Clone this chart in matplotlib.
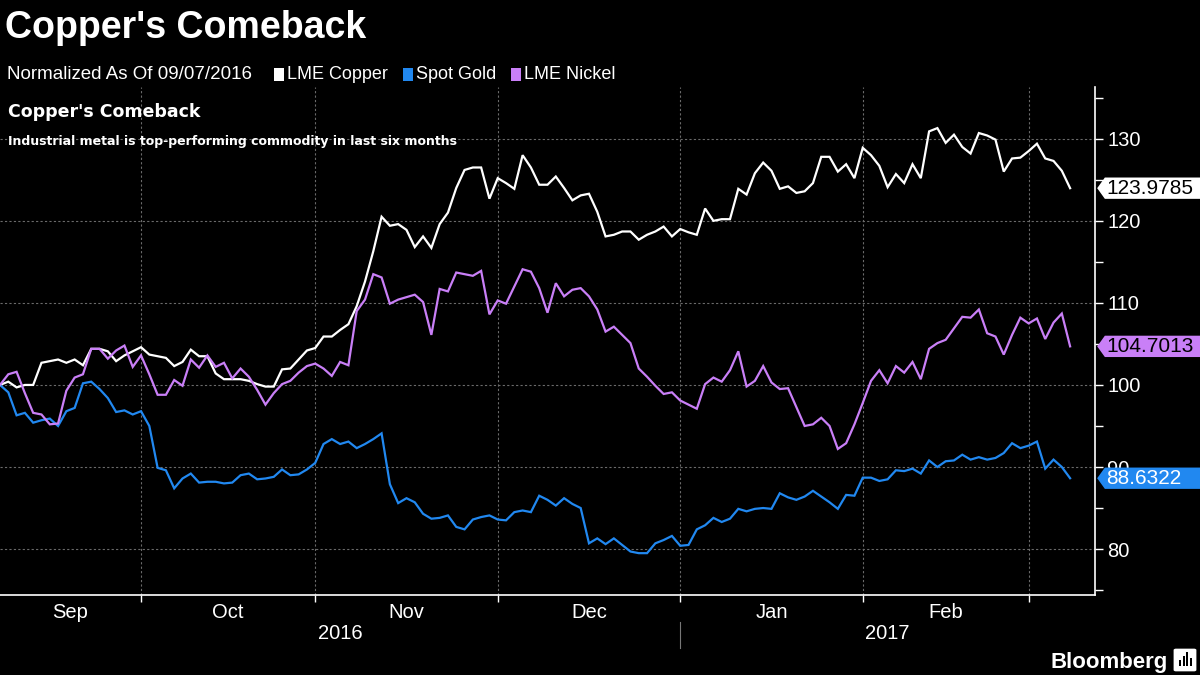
import matplotlib
matplotlib.use("Agg")
import matplotlib.pyplot as plt
import matplotlib.transforms as mtransforms
from matplotlib.patches import Polygon, FancyBboxPatch, Rectangle
import numpy as np
import pandas as pd

# --- datos (normalizados a 100 el 09/07/2016) ---
fechas = pd.bdate_range('2016-09-07', periods=130)

copper = [100.0, 100.4, 99.7, 100.0, 100.0, 102.7, 102.9, 103.1, 102.7, 103.1,
          102.4, 104.4, 104.4, 104.1, 102.9, 103.6, 104.1, 104.6, 103.7, 103.5,
          103.3, 102.3, 102.8, 104.3, 103.5, 103.5, 101.4, 100.7, 100.7, 100.7,
          100.5, 100.1, 99.8, 99.8, 101.9, 102.0, 103.1, 104.2, 104.5, 105.9,
          105.9, 106.7, 107.4, 109.6, 112.6, 116.3, 120.5, 119.4, 119.6, 118.9,
          116.8, 118.1, 116.7, 119.6, 121.0, 124.0, 126.2, 126.5, 126.5, 122.7,
          125.2, 124.6, 123.9, 128.0, 126.5, 124.4, 124.4, 125.4, 124.0, 122.5,
          123.1, 123.3, 121.1, 118.1, 118.3, 118.7, 118.7, 117.7, 118.3, 118.7,
          119.3, 118.1, 119.0, 118.6, 118.3, 121.5, 120.0, 120.2, 120.2, 123.9,
          123.2, 125.8, 127.1, 126.1, 123.9, 124.2, 123.4, 123.6, 124.6, 127.8,
          127.8, 126.0, 126.9, 125.2, 128.9, 128.0, 126.7, 124.1, 125.7, 124.6,
          126.9, 125.2, 130.9, 131.3, 129.5, 130.5, 129.0, 128.2, 130.7, 130.4,
          129.9, 126.0, 127.6, 127.7, 128.5, 129.4, 127.6, 127.3, 126.1, 123.9785]

gold = [100.0, 99.1, 96.3, 96.6, 95.4, 95.7, 95.9, 95.0, 96.8, 97.2,
        100.2, 100.4, 99.5, 98.4, 96.7, 96.9, 96.4, 96.8, 95.0, 89.9,
        89.6, 87.4, 88.6, 89.2, 88.1, 88.2, 88.2, 88.0, 88.1, 89.0,
        89.2, 88.5, 88.6, 88.8, 89.7, 89.0, 89.1, 89.7, 90.5, 92.8,
        93.4, 92.8, 93.1, 92.3, 92.8, 93.4, 94.1, 87.9, 85.6, 86.2,
        85.7, 84.3, 83.7, 83.8, 84.1, 82.7, 82.4, 83.6, 83.9, 84.1,
        83.6, 83.5, 84.5, 84.7, 84.5, 86.5, 86.0, 85.3, 86.2, 85.5,
        85.0, 80.7, 81.3, 80.6, 81.3, 80.5, 79.7, 79.5, 79.5, 80.7,
        81.1, 81.6, 80.4, 80.5, 82.4, 82.9, 83.8, 83.3, 83.7, 84.9,
        84.6, 84.9, 85.0, 84.9, 86.8, 86.3, 86.0, 86.4, 87.1, 86.4,
        85.7, 84.9, 86.6, 86.5, 88.7, 88.7, 88.3, 88.5, 89.6, 89.5,
        89.8, 89.2, 90.8, 90.0, 90.7, 90.8, 91.5, 90.9, 91.2, 90.9,
        91.1, 91.7, 92.9, 92.3, 92.6, 93.1, 89.8, 90.9, 90.0, 88.6322]

nickel = [100.0, 101.3, 101.6, 99.0, 96.6, 96.4, 95.2, 95.3, 99.3, 100.9,
          101.3, 104.4, 104.4, 103.2, 104.2, 104.8, 102.2, 103.6, 101.3, 98.8,
          98.8, 100.6, 99.9, 103.1, 102.1, 103.6, 102.2, 102.7, 100.8, 102.0,
          101.0, 99.4, 97.6, 99.0, 100.1, 100.5, 101.5, 102.3, 102.6, 102.0,
          101.1, 102.8, 102.4, 109.0, 110.4, 113.5, 113.1, 109.9, 110.4, 110.7,
          111.0, 110.1, 106.1, 111.7, 111.4, 113.7, 113.5, 113.3, 113.9, 108.6,
          110.3, 109.9, 112.0, 114.1, 113.8, 111.8, 108.8, 112.4, 110.8, 111.6,
          111.8, 110.8, 109.2, 106.5, 107.1, 106.1, 105.1, 102.0, 101.0, 99.9,
          98.9, 99.1, 98.1, 97.6, 97.1, 100.1, 100.9, 100.4, 101.8, 104.1,
          99.8, 100.5, 102.3, 100.3, 99.5, 99.6, 97.3, 95.0, 95.2, 96.0,
          95.0, 92.2, 92.9, 95.2, 97.8, 100.5, 101.8, 100.2, 102.3, 101.5,
          102.8, 100.7, 104.4, 105.1, 105.5, 106.9, 108.3, 108.2, 109.2, 106.3,
          105.9, 103.7, 106.1, 108.2, 107.5, 108.1, 105.6, 107.6, 108.7, 104.7013]

nombres = ['LME Copper', 'Spot Gold', 'LME Nickel']
colores = ['#ffffff', '#2188f0', '#c97ff7']
series = [copper, gold, nickel]
y_ticks = [80, 90, 100, 110, 120, 130]

fuente = ['Liberation Sans', 'DejaVu Sans']
plt.rcParams['font.family'] = fuente

x = np.arange(len(fechas))

# limites de mes: ultimo dia habil de cada mes
meses = fechas.to_period('M')
cambio = np.where(meses[1:] != meses[:-1])[0]        # indice del ultimo dia del mes
x_max = 132
bordes = np.concatenate(([0], cambio))
centros = (bordes[:-1] + bordes[1:]) / 2.           # solo meses completos (sin Mar)
etiquetas_mes = [m.strftime('%b') for m in meses[np.r_[0, cambio + 1]]][:len(centros)]

fig = plt.figure(figsize=(12, 6.75), dpi=100, facecolor='black')
ax = fig.add_axes([0.0, 0.1185, 0.9125, 0.7525])
ax.set_facecolor('black')

for s, c, n in zip(series, colores, nombres):
    ax.plot(x, s, color=c, lw=1.6, label=n, solid_joinstyle='miter')

ax.set_xlim(0, x_max)
ax.set_ylim(74.4, 136.3)

# ejes
ax.yaxis.tick_right()
ax.set_yticks(y_ticks)
ax.set_yticks(np.arange(75, 140, 10), minor=True)
ax.tick_params(axis='y', which='both', colors='white', direction='out', length=6,
               width=1, labelsize=14.5, pad=3)
ax.set_xticks(cambio)
ax.set_xticklabels([])
ax.set_xticks(centros, minor=True)
ax.set_xticklabels(etiquetas_mes, minor=True)
ax.tick_params(axis='x', which='major', colors='white', direction='out', length=5, width=1)
ax.tick_params(axis='x', which='minor', length=0, labelsize=14.5, labelcolor='white', pad=6)

for lado in ['left', 'top']:
    ax.spines[lado].set_visible(False)
for lado in ['right', 'bottom']:
    ax.spines[lado].set_color('white')
    ax.spines[lado].set_linewidth(1.2)

ax.grid(True, which='major', color='#6a6a6a', linestyle=(0, (2, 2)), linewidth=0.8)

# anos
trans_x = mtransforms.blended_transform_factory(ax.transData, ax.transAxes)
anio_ini = meses[0].year
corte_anio = [c for c in cambio if meses[c + 1].year != meses[c].year][0]
ax.text((0 + corte_anio) / 2., -0.075, str(anio_ini), transform=trans_x, color='white',
        fontsize=14.5, ha='center', va='center')
ax.text((corte_anio + x_max) / 2., -0.075, str(anio_ini + 1), transform=trans_x, color='white',
        fontsize=14.5, ha='center', va='center')
ax.plot([corte_anio, corte_anio], [-0.053, -0.104], transform=trans_x, color='#777777',
        lw=0.8, clip_on=False)

# etiquetas del ultimo valor (tapan la etiqueta del eje, como en el original)
trans_y = mtransforms.blended_transform_factory(ax.transAxes, ax.transData)
texto_col = ['black', 'white', 'black']
for s, c, tc in zip(series, colores, texto_col):
    v = s[-1]
    h = 1.3
    caja = Polygon([[1.002, v], [1.009, v + h], [1.1, v + h], [1.1, v - h], [1.009, v - h]],
                   closed=True, transform=trans_y, facecolor=c, edgecolor='none',
                   clip_on=False, zorder=5)
    ax.add_patch(caja)
    ax.text(1.01, v, '%.4f' % v, transform=trans_y, color=tc, fontsize=15,
            ha='left', va='center', clip_on=False, zorder=6)

# textos
fig.text(0.004, 1 - 38 / 675., "Copper's Comeback", color='white', fontsize=27,
         fontweight='bold', va='baseline', ha='left')

leg_y = 1 - 79 / 675.
fig.text(0.006, leg_y, 'Normalized As Of 09/07/2016', color='white', fontsize=13.5,
         va='baseline', ha='left')
x_leg = [274, 403, 511]
for xl, c, n in zip(x_leg, colores, nombres):
    fig.patches.append(Rectangle((xl / 1200., 1 - 81 / 675.), 10 / 1200., 13 / 675.,
                                 transform=fig.transFigure, facecolor=c, edgecolor='none'))
    fig.text((xl + 13) / 1200., leg_y, n, color='white', fontsize=13, va='baseline', ha='left')

fig.text(8 / 1200., 1 - 117 / 675., "Copper's Comeback", color='white', fontsize=12.5,
         fontweight='bold', family=['DejaVu Sans'], va='baseline', ha='left')
fig.text(8 / 1200., 1 - 145 / 675., 'Industrial metal is top-performing commodity in last six months',
         color='white', fontsize=9, fontweight='bold', family=['DejaVu Sans'],
         va='baseline', ha='left')

# logo
fig.text(1168 / 1200., 1 - 668 / 675., 'Bloomberg', color='white', fontsize=16,
         fontweight='bold', va='baseline', ha='right')
fig.patches.append(FancyBboxPatch((1176 / 1200., 1 - 670 / 675.), 18 / 1200., 20 / 675.,
                                  boxstyle='round,pad=0.002', transform=fig.transFigure,
                                  facecolor='white', edgecolor='none'))
for k, hb in enumerate([6, 10, 14, 8]):
    fig.patches.append(Rectangle(((1179 + 3.5 * k) / 1200., 1 - 666 / 675.), 2 / 1200., hb / 675.,
                                 transform=fig.transFigure, facecolor='black', edgecolor='none'))

fig.savefig('out.png', dpi=100, facecolor='black')
